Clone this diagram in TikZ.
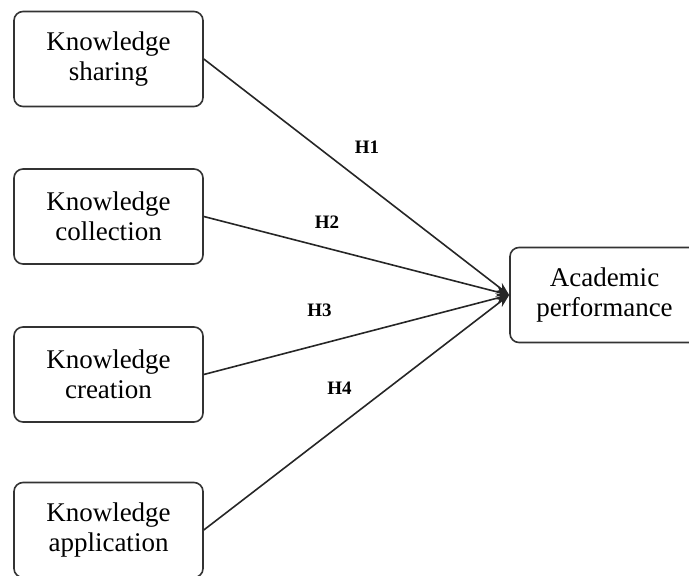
\documentclass[tikz,border=0pt]{standalone}
\usepackage{fontspec}
\setmainfont{Liberation Serif}
\usetikzlibrary{arrows.meta}
\begin{document}
\begin{tikzpicture}[x=1pt,y=-1pt,
  box/.style={draw=black!80,line width=1.6pt,rounded corners=9pt,minimum width=189pt,minimum height=95pt,align=center,inner sep=0pt,font=\fontsize{27}{30}\selectfont},
  link/.style={draw=black!85,line width=1.6pt,-{Stealth[length=13pt,width=10pt]}},
  hyp/.style={font=\fontsize{19}{22}\selectfont\bfseries,inner sep=0pt}]
\useasboundingbox (0,0) rectangle (689,576);
\node[box] (ks) at (108.5,59) {Knowledge\\sharing};
\node[box] (kc) at (108.5,216.5) {Knowledge\\collection};
\node[box] (kr) at (108.5,374.5) {Knowledge\\creation};
\node[box] (ka) at (108.5,530) {Knowledge\\application};
\node[box] (ap) at (604.5,295) {Academic\\performance};
\draw[link] (ks.east) -- (ap.west);
\draw[link] (kc.east) -- (ap.west);
\draw[link] (kr.east) -- (ap.west);
\draw[link] (ka.east) -- (ap.west);
\node[hyp] (h1) at (367,147) {H1};
\node[hyp] (h2) at (327,222.5) {H2};
\node[hyp] (h3) at (319.5,310) {H3};
\node[hyp] (h4) at (339.5,388.5) {H4};
\end{tikzpicture}
\end{document}
